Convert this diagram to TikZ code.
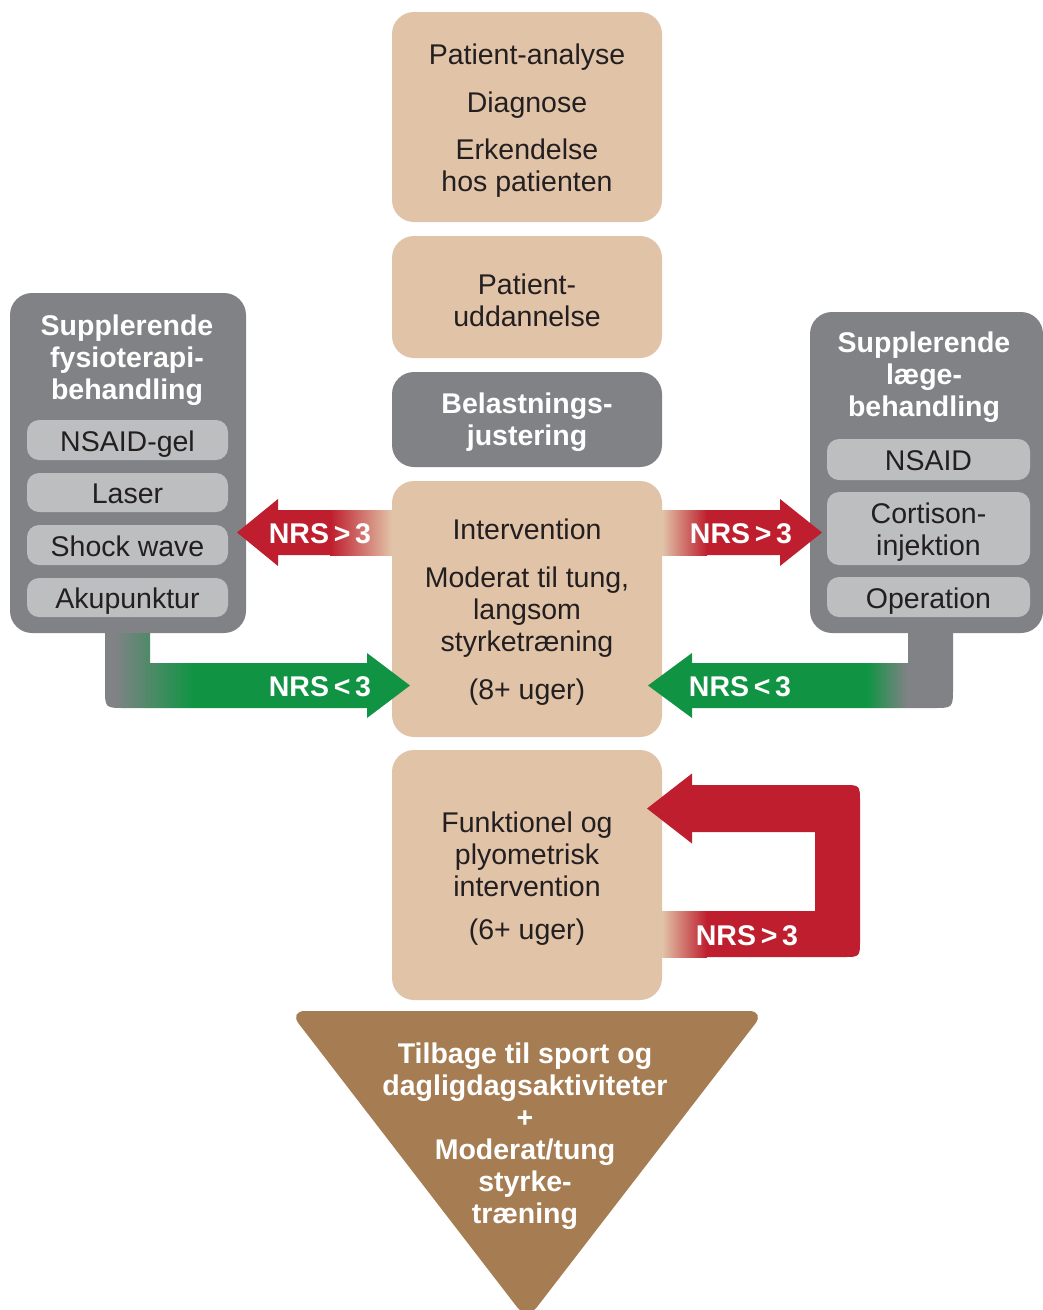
\documentclass[tikz,border=0pt]{standalone}
\usepackage{fontspec}
\setmainfont{Liberation Sans}
\definecolor{boxtan}{RGB}{225,195,168}
\definecolor{boxgrey}{RGB}{128,130,133}
\definecolor{itemgrey}{RGB}{188,190,192}
\definecolor{txtdark}{RGB}{35,31,32}
\definecolor{nrsred}{RGB}{190,30,45}
\definecolor{nrsgreen}{RGB}{16,148,68}
\definecolor{sportbrown}{RGB}{166,124,82}
% a little air above the first line of a box
\newcommand{\luft}{\rule{0pt}{27pt}}

\begin{document}
\begin{tikzpicture}[x=1pt, y=-1pt,
    tanbox/.style={fill=boxtan, rounded corners=22, text=txtdark, align=center,
      font=\fontsize{28.5}{32}\selectfont, minimum width=270, inner sep=0},
    greybox/.style={fill=boxgrey, rounded corners=22, inner sep=0},
    itembox/.style={fill=itemgrey, rounded corners=12, text=txtdark, align=center,
      font=\fontsize{28.5}{32}\selectfont, minimum width=201, inner sep=0,
      text height=22, text depth=0},
    headtxt/.style={text=white, align=center, font=\bfseries\fontsize{28.5}{32}\selectfont},
    nrs/.style={text=white, font=\bfseries\fontsize{28.5}{32}\selectfont}]
    \useasboundingbox (0,0) rectangle (1043,1310);

    % Centre column
    \node[tanbox, minimum height=210] (analyse) at (527,117)
        {\luft Patient-analyse\\[16pt]Diagnose\\[15pt]Erkendelse\\hos patienten};
    \node[tanbox, minimum height=122] (uddan) at (527,297) {\luft Patient-\\uddannelse};
    \node[tanbox, fill=boxgrey, text=white, font=\bfseries\fontsize{28.5}{32}\selectfont,
        minimum height=95] (belast) at (527,419.5) {\luft Belastnings-\\justering};
    \node[tanbox, minimum height=256] (interv) at (527,609)
        {\luft Intervention\\[16pt]Moderat til tung,\\langsom\\styrketræning\\[16pt](8+ uger)};
    \node[tanbox, minimum height=250] (funk) at (527,875)
        {\luft Funktionel og\\plyometrisk\\intervention\\[11pt](6+ uger)};

    % Return to sport
    \fill[sportbrown, rounded corners=16] (289,1011) -- (765,1011) -- (527,1320) -- cycle;
    \node[headtxt] (sport) at (525,1133)
        {\luft Tilbage til sport og\\dagligdagsaktiviteter\\+\\Moderat/tung\\styrke-\\træning};

    % Left side: physiotherapy
    \node[greybox, minimum width=236, minimum height=340] (fysio) at (128,463) {};
    \node[headtxt] (fysiotitel) at (127,357.5) {\luft Supplerende\\fysioterapi-\\behandling};
    \node[itembox, minimum height=40] (gel) at (127.5,440) {NSAID-gel};
    \node[itembox, minimum height=39] (laser) at (127.5,492.5) {Laser};
    \node[itembox, minimum height=40] (shock) at (127.5,545) {Shock wave};
    \node[itembox, minimum height=39] (aku) at (127.5,597.5) {Akupunktur};

    % Right side: medical
    \node[greybox, minimum width=233, minimum height=321] (laege) at (926.5,472.5) {};
    \node[headtxt] (laegetitel) at (924,374.5) {\luft Supplerende\\læge-\\behandling};
    \node[itembox, minimum width=203, minimum height=41] (nsaid) at (928.5,459.5) {NSAID};
    \node[itembox, minimum width=203, minimum height=73, text height=, text depth=]
        (cortison) at (928.5,528.5) {\luft Cortison-\\injektion};
    \node[itembox, minimum width=203, minimum height=40] (operation) at (928.5,597) {Operation};

    % NRS > 3 arrows out of the intervention
    \fill[nrsred] (interv.west |- 0,510) -- (278,510) -- (278,499) -- (237,532.5)
        -- (278,566) -- (278,555) -- (interv.west |- 0,555) -- cycle;
    \shade[left color=nrsred, right color=boxtan] (330,510) rectangle (interv.west |- 0,555);
    \fill[nrsred] (interv.east |- 0,510) -- (780,510) -- (780,499) -- (822,532.5)
        -- (780,566) -- (780,555) -- (interv.east |- 0,555) -- cycle;
    \shade[left color=boxtan, right color=nrsred] (interv.east |- 0,510) rectangle (707,555);

    % NRS < 3 arrows back into the intervention
    \begin{scope}
        \clip (fysio.south -| 150,0) -- (150,663) -- (367,663) -- (367,653) -- (410,685.5)
            -- (367,718) -- (367,708) -- (125,708) .. controls (105,708) .. (105,688)
            -- (fysio.south -| 105,0) -- cycle;
        \fill[boxgrey] (100,620) rectangle (115,720);
        \shade[left color=boxgrey, right color=nrsgreen] (115,620) rectangle (193,720);
        \fill[nrsgreen] (193,620) rectangle (420,720);
    \end{scope}
    \begin{scope}
        \clip (laege.south -| 908,0) -- (908,663) -- (692,663) -- (692,653) -- (648,685.5)
            -- (692,718) -- (692,708) -- (933,708) .. controls (953,708) .. (953,688)
            -- (laege.south -| 953,0) -- cycle;
        \fill[nrsgreen] (640,620) rectangle (867,720);
        \shade[left color=nrsgreen, right color=boxgrey] (867,620) rectangle (907,720);
        \fill[boxgrey] (907,620) rectangle (960,720);
    \end{scope}

    % NRS > 3 loop on the functional step
    \fill[nrsred] (funk.east |- 0,911) -- (815,911) -- (815,832) -- (692,832) -- (692,843.5)
        -- (647,808.5) -- (692,773.5) -- (692,785) -- (843,785) .. controls (860,785) .. (860,802)
        -- (860,940) .. controls (860,957) .. (843,957) -- (funk.east |- 0,957) -- cycle;
    \shade[left color=boxtan, right color=nrsred] (funk.east |- 0,911) rectangle (707,957);

    % Labels
    \node[nrs] (roedV) at (320,534) {NRS\,>\,3};
    \node[nrs] (roedH) at (741,534) {NRS\,>\,3};
    \node[nrs] (groenV) at (320,687) {NRS\,<\,3};
    \node[nrs] (groenH) at (740,687) {NRS\,<\,3};
    \node[nrs] (roedL) at (747,936) {NRS\,>\,3};
\end{tikzpicture}
\end{document}
